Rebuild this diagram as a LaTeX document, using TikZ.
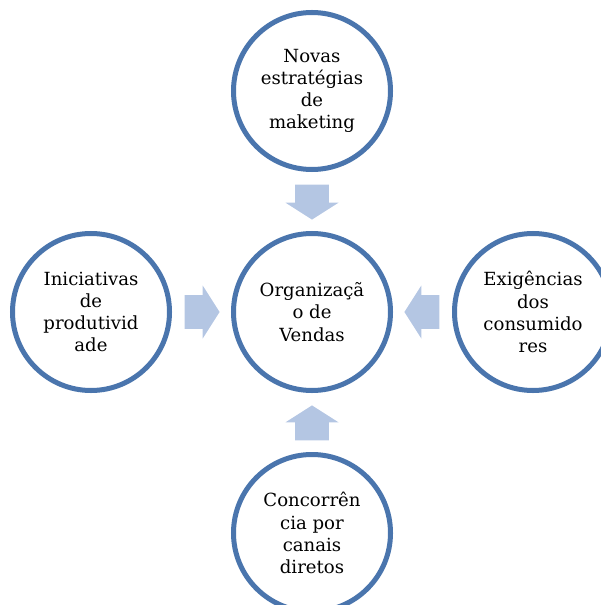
\documentclass[tikz,border=0pt]{standalone}
\usepackage{fontspec}
\setmainfont{DejaVu Serif}
\usetikzlibrary{shapes.arrows}

\definecolor{ringblue}{HTML}{4A75AD}
\definecolor{arrowblue}{HTML}{B4C6E3}

\tikzset{
  topic/.style={circle, draw=ringblue, line width=2.85pt, fill=white,
    minimum size=3.14cm, inner sep=0pt, align=center,
    font=\fontsize{10.3}{12.6}\selectfont},
  blockarrow/.style={single arrow, fill=arrowblue, draw=none,
    minimum width=1.06cm, minimum height=0.7cm, inner xsep=0pt,
    inner ysep=0.165cm, single arrow head extend=0.1cm,
    single arrow tip angle=115, anchor=tip}
}

\begin{document}
\begin{tikzpicture}
		\useasboundingbox (0,0) rectangle (12.02,-12.10);

		\node[topic] (org) at (6.24,-6.24) {Organizaçã\\o de\\Vendas};
		\node[topic] (mkt) at (6.24,-1.82) {Novas\\estratégias\\de\\maketing};
		\node[topic] (prod) at (1.82,-6.24) {Iniciativas\\de\\produtivid\\ade};
		\node[topic] (cons) at (10.66,-6.24) {Exigências\\dos\\consumido\\res};
		\node[topic] (conc) at (6.24,-10.66) {Concorrên\\cia por\\canais\\diretos};

		% block arrows, placed by their tips next to the centre ring
		\node[blockarrow, rotate=-90] (amkt) at (6.24,-4.40) {};
		\node[blockarrow] (aprod) at (4.40,-6.24) {};
		\node[blockarrow, rotate=180] (acons) at (8.08,-6.24) {};
		\node[blockarrow, rotate=90] (aconc) at (6.24,-8.10) {};
\end{tikzpicture}
\end{document}
